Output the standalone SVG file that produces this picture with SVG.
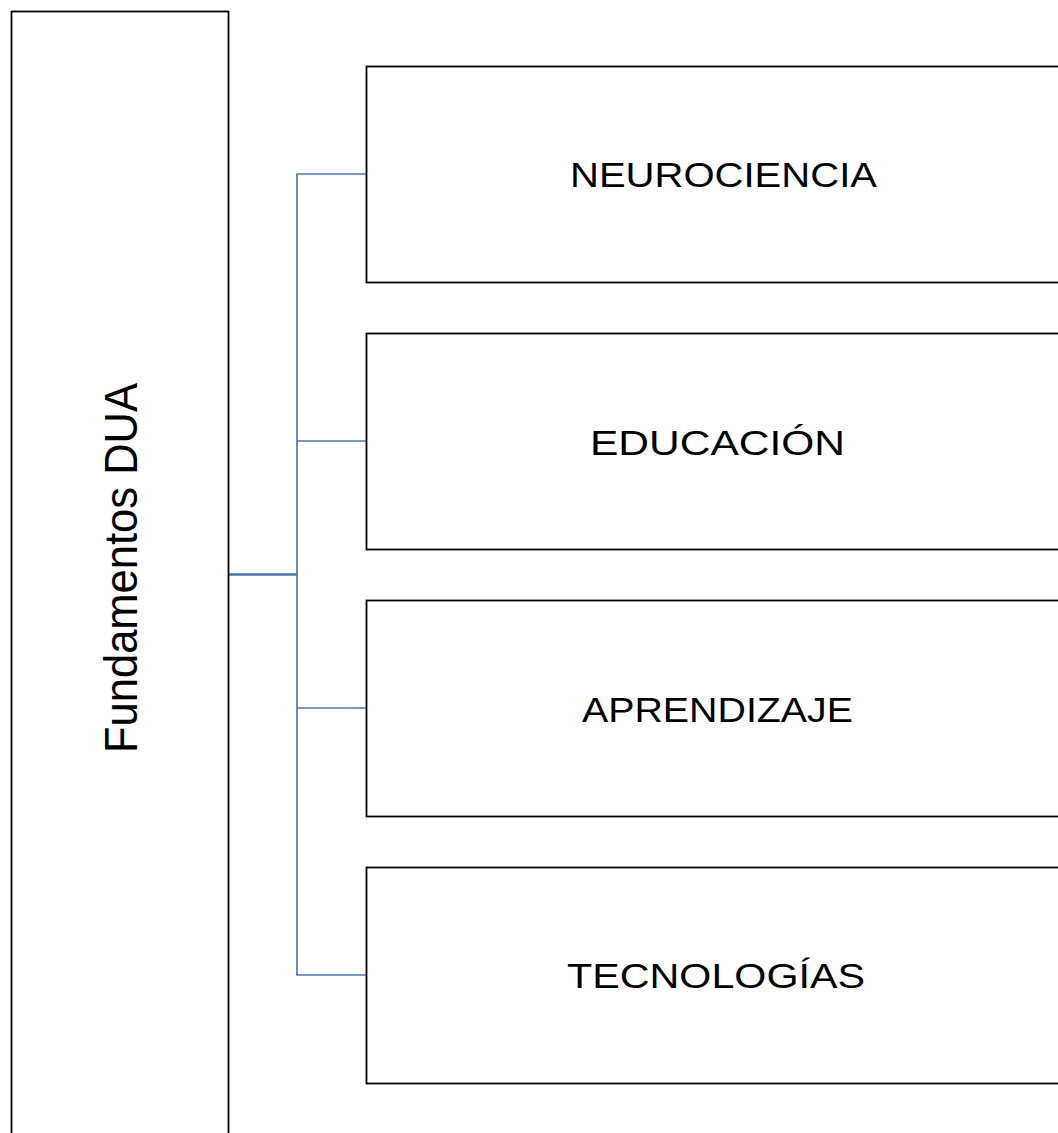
<svg xmlns="http://www.w3.org/2000/svg" width="1058" height="1133" viewBox="0 0 1058 1133">
<style>
.box{fill:#ffffff;stroke:#000000;stroke-width:1.8}
.lbl{font-family:"Liberation Sans",Arial,sans-serif;font-size:35px;fill:#000000;text-anchor:middle}
.big{font-family:"Liberation Sans",Arial,sans-serif;font-size:46px;fill:#000000;text-anchor:middle}
.con{fill:none;stroke:#4a7aad;stroke-width:1.7}
.stub{fill:none;stroke:#4a7aad;stroke-width:2.7}
</style>
<rect x="0" y="0" width="1058" height="1133" fill="#ffffff"/>
<g id="connectors">
<line class="stub" x1="229" y1="574.5" x2="297" y2="574.5"/>
<line class="con" x1="297" y1="174" x2="297" y2="975"/>
<line class="con" x1="296.2" y1="174" x2="366" y2="174"/>
<line class="con" x1="297" y1="441" x2="366" y2="441"/>
<line class="con" x1="297" y1="708" x2="366" y2="708"/>
<line class="con" x1="296.2" y1="975" x2="366" y2="975"/>
</g>
<g id="node-root">
<rect class="box" x="11.5" y="11.5" width="217" height="1140"/>
<text class="big" transform="translate(137,568) rotate(-90)" textLength="370" lengthAdjust="spacingAndGlyphs">Fundamentos DUA</text>
</g>
<g id="node-neurociencia">
<rect class="box" x="366.5" y="66.5" width="720" height="216"/>
<text class="lbl" x="723.5" y="187" textLength="307" lengthAdjust="spacingAndGlyphs">NEUROCIENCIA</text>
</g>
<g id="node-educacion">
<rect class="box" x="366.5" y="333.5" width="720" height="216"/>
<text class="lbl" x="717.5" y="455" textLength="255" lengthAdjust="spacingAndGlyphs">EDUCACIÓN</text>
</g>
<g id="node-aprendizaje">
<rect class="box" x="366.5" y="600.5" width="720" height="216"/>
<text class="lbl" x="717.5" y="722" textLength="271" lengthAdjust="spacingAndGlyphs">APRENDIZAJE</text>
</g>
<g id="node-tecnologias">
<rect class="box" x="366.5" y="867.5" width="720" height="216"/>
<text class="lbl" x="716" y="988" textLength="298" lengthAdjust="spacingAndGlyphs">TECNOLOGÍAS</text>
</g>
</svg>
